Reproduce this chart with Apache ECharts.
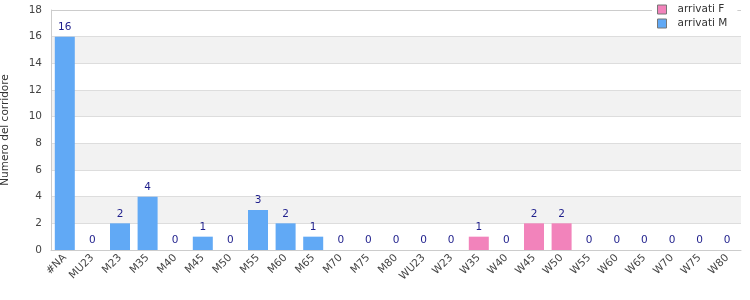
<!DOCTYPE html>
<html>
<head>
<meta charset="utf-8">
<script src="https://cdn.jsdelivr.net/npm/echarts@6/dist/echarts.min.js"></script>
<style>
  html, body { margin: 0; padding: 0; background: #fff; }
  #chart { width: 750px; height: 300px; }
</style>
</head>
<body>
<div id="chart"></div>
<script>
const categories = ['#NA', 'MU23', 'M23', 'M35', 'M40', 'M45', 'M50', 'M55', 'M60', 'M65', 'M70', 'M75', 'M80',
  'WU23', 'W23', 'W35', 'W40', 'W45', 'W50', 'W55', 'W60', 'W65', 'W70', 'W75', 'W80']
const arrivatiM = [16, 0, 2, 4, 0, 1, 0, 3, 2, 1, 0, 0, 0, 0, 0, 0, 0, 0, 0, 0, 0, 0, 0, 0, 0]
const arrivatiF = [0, 0, 0, 0, 0, 0, 0, 0, 0, 0, 0, 0, 0, 0, 0, 1, 0, 2, 2, 0, 0, 0, 0, 0, 0]
const yMax = 18
const yStep = 2

// totale per categoria, mostrato sopra la pila
const totals = categories.map((c, i) => arrivatiM[i] + arrivatiF[i])

const font = 'DejaVu Sans'
const fs = 10.5
const myChart = echarts.init(document.getElementById('chart'))
myChart.setOption({
  animation: false,
  textStyle: { fontFamily: font },
  grid: { left: 51, right: 9, top: 10, bottom: 50, outerBoundsMode: 'none' },
  legend: {
    orient: 'vertical',
    left: 652,
    top: 0,
    z: 20,
    padding: [4, 10, 3, 5],
    backgroundColor: '#fff',
    icon: 'rect',
    itemWidth: 9,
    itemHeight: 9,
    itemGap: 3,
    itemStyle: { borderColor: '#777', borderWidth: 1 },
    data: ['arrivati F', 'arrivati M'],
    textStyle: { fontSize: fs, color: '#333', fontFamily: font, padding: [0, 0, 0, 6] }
  },
  xAxis: {
    type: 'category',
    data: categories,
    axisTick: { show: false },
    axisLine: { lineStyle: { color: '#ccc' } },
    axisLabel: { rotate: 45, fontSize: fs, color: '#444', interval: 0, margin: 6 },
    splitLine: { show: false }
  },
  yAxis: {
    type: 'value',
    min: 0,
    max: yMax,
    interval: yStep,
    name: 'Numero del corridore',
    nameLocation: 'middle',
    nameGap: 40,
    nameTextStyle: { fontSize: fs, color: '#333' },
    axisLine: { show: true, lineStyle: { color: '#ccc' } },
    axisTick: { show: false },
    axisLabel: { fontSize: fs, color: '#444', margin: 9 },
    splitLine: { lineStyle: { color: '#ddd' } },
    splitArea: { show: true, areaStyle: { color: ['#fff', '#f2f2f2'] } }
  },
  series: [
    {
      name: 'arrivati M',
      type: 'bar',
      stack: 'tot',
      barWidth: 20,
      itemStyle: { color: '#61a9f5' },
      data: arrivatiM
    },
    {
      name: 'arrivati F',
      type: 'bar',
      stack: 'tot',
      barWidth: 20,
      itemStyle: { color: '#f283bb' },
      label: {
        show: true,
        position: 'top',
        distance: 4,
        fontSize: fs,
        color: '#1f1f8c',
        formatter: p => totals[p.dataIndex]
      },
      data: arrivatiF
    },
    {
      // bordo del riquadro (lato alto)
      type: 'line',
      z: 1,
      data: [],
      markLine: {
        silent: true,
        symbol: 'none',
        label: { show: false },
        lineStyle: { color: '#ccc', type: 'solid', width: 1 },
        data: [{ yAxis: yMax }]
      }
    }
  ]
})
</script>
</body>
</html>
